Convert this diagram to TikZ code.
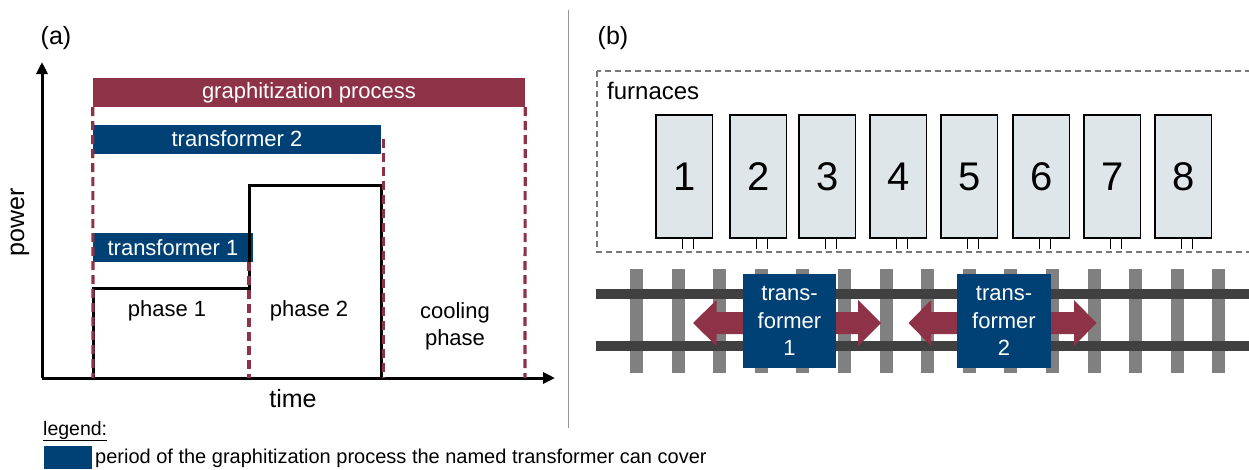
\documentclass[tikz,border=0pt]{standalone}
\usepackage{fontspec}
\setmainfont{Liberation Sans}
\usetikzlibrary{arrows.meta}
\definecolor{maroon}{RGB}{142,51,71}
\definecolor{tblue}{RGB}{0,65,117}
\definecolor{furn}{RGB}{223,230,234}
\definecolor{railc}{RGB}{64,64,64}
\definecolor{sleeperc}{RGB}{128,128,128}
\definecolor{sepc}{RGB}{150,150,150}
\tikzset{
  fs/.style={font=\fontsize{#1}{#1}\selectfont},
  procbar/.style={fill=maroon, text=white, inner sep=0pt, fs=22},
  trbar/.style={fill=tblue, text=white, inner sep=0pt, fs=22},
  curve/.style={line width=3pt, black, line join=miter},
  phaseline/.style={line width=3.2pt, maroon, dash pattern=on 9pt off 5pt},
  axisline/.style={line width=3pt, black, -{Triangle[length=12pt,width=11pt]}},
  furnace/.style={draw=black, line width=1.2pt, fill=furn, minimum width=56.5pt, minimum height=123pt, inner sep=0pt, font=\fontsize{40}{44}\selectfont},
  terminal/.style={line width=1.1pt, black},
  railbar/.style={fill=railc},
  sleeper/.style={fill=sleeperc},
  trbox/.style={fill=tblue, text=white, inner sep=0pt, minimum width=93.5pt, minimum height=94pt, align=center, font=\fontsize{22}{27.5}\selectfont},
  movearrow/.style={fill=maroon},
  lbl/.style={inner sep=0pt, fs=22}
}
\begin{document}
\begin{tikzpicture}[x=1pt,y=-1pt]
\useasboundingbox (0,0) rectangle (1249,469);
\fill[white] (0,0) rectangle (1249,469);

% ---------- panel (a) ----------
\node[inner sep=0pt, fs=25] (la) at (56,38) {(a)};
\node[procbar, minimum width=432pt, minimum height=29pt, text depth=3pt] (proc) at (309,92.5) {graphitization process};
\node[trbar, minimum width=288pt, minimum height=29pt] (tr2) at (237,139) {transformer 2};
\node[trbar, minimum width=160pt, minimum height=29pt] (tr1) at (173,247.5) {transformer 1};

\coordinate (o) at (42,378);
\coordinate (ytip) at (42,62);
\coordinate (xtip) at (555,378);
\draw[axisline] (o) -- (ytip);
\draw[axisline] (o) -- (xtip);

\coordinate (c0) at (93,378);
\coordinate (c1) at (93,288);
\coordinate (c2) at (249,288);
\coordinate (c3) at (249,185);
\coordinate (c4) at (381,185);
\coordinate (c5) at (381,378);
\draw[curve] (c0) -- (c1) -- (c2) -- (c3) -- (c4) -- (c5);

\coordinate (d1) at (93,378);
\coordinate (d2) at (249,378);
\coordinate (d3) at (383.5,378);
\coordinate (d4) at (525,378);
\draw[phaseline] (proc.south west) -- (d1);
\draw[phaseline] (tr1.south east -| d2) -- (d2);
\draw[phaseline] (383.5,139) -- (d3);
\draw[phaseline] (proc.south east) -- (d4);

\node[lbl] (p1) at (167,311) {phase 1};
\node[lbl] (p2) at (309,311) {phase 2};
\node[lbl, align=center, font=\fontsize{22}{27}\selectfont] (p3) at (455,326) {cooling\\phase};
\node[inner sep=0pt, fs=25] (time) at (293,399) {time};
\node[inner sep=0pt, fs=25, rotate=90] (power) at (20,222) {power};

% separator
\coordinate (s1) at (568,10);
\coordinate (s2) at (568,428);
\draw[sepc, line width=1pt] (s1) -- (s2);

% ---------- panel (b) ----------
\node[inner sep=0pt, fs=25] (lb) at (613,38) {(b)};
\draw[sepc!80!black, line width=1.1pt, dash pattern=on 6pt off 4pt] (597,71) rectangle (1253,252);
\node[anchor=west, inner sep=0pt, fs=24] (furnlbl) at (607,91) {furnaces};

\foreach \n/\x in {1/656,2/730,3/799,4/870,5/941,6/1013,7/1084,8/1155}{
  \node[furnace] (f\n) at (\x+28.25,176.5) {\n};
  \draw[terminal] ([xshift=-2pt]f\n.south) -- ++(0,10);
  \draw[terminal] ([xshift=9pt]f\n.south) -- ++(0,10);
}

% sleepers
\foreach \i in {0,...,14}{
  \fill[sleeper] (630+41.6*\i,269) rectangle ++(13,104);
}
% rails
\fill[railbar] (596,289) rectangle (1249,299);
\fill[railbar] (596,341) rectangle (1249,351);

% movement arrows
\fill[movearrow] (693,323) -- (716.5,300) -- (716.5,312) -- (858,312) -- (858,300) -- (881,323) -- (858,346) -- (858,334) -- (716.5,334) -- (716.5,346) -- cycle;
\fill[movearrow] (908.5,323) -- (931,300) -- (931,312) -- (1074,312) -- (1074,300) -- (1096.5,323) -- (1074,346) -- (1074,334) -- (931,334) -- (931,346) -- cycle;

\node[trbox] (t1) at (789.5,321) {trans-\\former\\1};
\node[trbox] (t2) at (1004,321) {trans-\\former\\2};

% ---------- legend ----------
\node[anchor=west, inner sep=0pt, fs=19.5] (leg) at (43,431) {\underline{legend:}};
\node[fill=tblue, minimum width=48pt, minimum height=23pt, inner sep=0pt] (legbox) at (68,457.5) {};
\node[anchor=west, inner sep=0pt, fs=20] (legtxt) at (95,458) {period of the graphitization process the named transformer can cover};
\end{tikzpicture}
\end{document}
